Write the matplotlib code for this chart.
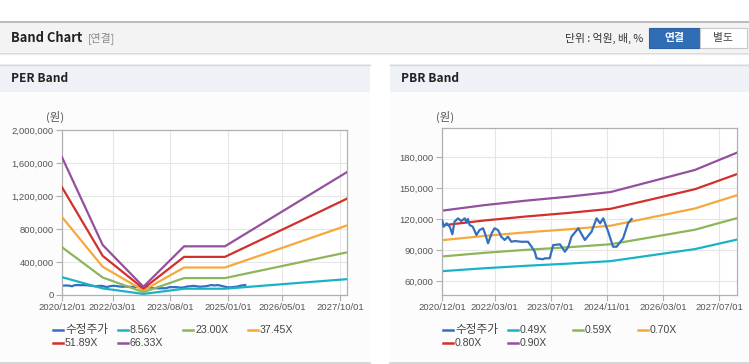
import matplotlib
matplotlib.use("Agg")
import matplotlib.pyplot as plt
import pandas as pd
from matplotlib.patches import Rectangle
from matplotlib.lines import Line2D
from matplotlib.ticker import FuncFormatter

plt.rcParams["font.family"] = ["Liberation Sans", "Noto Sans CJK KR", "DejaVu Sans"]

W, H = 749, 364

# ---- data -------------------------------------------------------------
band_dates = pd.to_datetime([
    "2020-12-01", "2021-12-01", "2022-12-01", "2023-12-01",
    "2024-12-01", "2025-12-01", "2026-12-01", "2027-12-01",
])

price_dates = pd.to_datetime([
    "2020-12-04", "2020-12-16", "2021-01-10", "2021-02-06", "2021-03-01",
    "2021-03-19", "2021-04-19", "2021-05-16", "2021-06-16", "2021-07-01",
    "2021-07-13", "2021-07-28", "2021-08-25", "2021-09-25", "2021-10-22",
    "2021-11-22", "2021-12-13", "2022-01-04", "2022-02-04", "2022-03-01",
    "2022-04-01", "2022-04-28", "2022-05-28", "2022-06-25", "2022-07-25",
    "2022-08-22", "2022-10-19", "2022-12-16", "2023-01-16", "2023-02-13",
    "2023-02-28", "2023-04-25", "2023-05-10", "2023-06-22", "2023-07-22",
    "2023-09-19", "2023-11-01", "2023-12-01", "2023-12-28", "2024-02-25",
    "2024-04-22", "2024-06-19", "2024-08-01", "2024-09-01", "2024-09-28",
    "2024-11-10", "2024-12-22", "2025-01-22", "2025-03-19", "2025-05-01",
    "2025-06-01",
])
price = [
    118500, 112700, 116000, 112700, 105400,
    117500, 120800, 118200, 120800, 117000,
    120200, 114400, 112700, 104700, 109500,
    111200, 104700, 96700, 106300, 111200,
    109500, 103100, 99900, 103100, 98200,
    98900, 98200, 98200, 93400, 88600,
    82200, 81300, 82200, 82200, 95000,
    95700, 88600, 93400, 103100, 111200,
    99900, 107900, 120800, 116000, 120800,
    107900, 93400, 93400, 101500, 116000,
    120200,
]

per_labels = ["수정주가", "8.56X", "23.00X", "37.45X", "51.89X", "66.33X"]
per_856 = [216000, 80000, 13000, 76000, 76000, 115000, 154000, 192000]
per_2300 = [579000, 212000, 35000, 205000, 205000, 309000, 413000, 517000]
per_3745 = [945000, 342000, 56000, 333000, 333000, 502000, 672000, 843000]
per_5189 = [1306000, 474000, 78000, 462000, 462000, 696000, 931000, 1168000]
per_6633 = [1670000, 606000, 100000, 590000, 590000, 890000, 1190000, 1490000]

pbr_labels = ["수정주가", "0.49X", "0.59X", "0.70X", "0.80X", "0.90X"]
pbr_049 = [69800, 72600, 75000, 77100, 79500, 85300, 91100, 100300]
pbr_059 = [84000, 87500, 90400, 92900, 95800, 102800, 109800, 121000]
pbr_070 = [99700, 103800, 107300, 110200, 113700, 122000, 130300, 143100]
pbr_080 = [114000, 118700, 122600, 126000, 130000, 139400, 148900, 163500]
pbr_090 = [128200, 133500, 137900, 141700, 146200, 156800, 167500, 184200]

per_ticks = ["2020-12-01", "2022-03-01", "2023-08-01", "2025-01-01", "2026-05-01", "2027-10-01"]
pbr_ticks = ["2020-12-01", "2022-03-01", "2023-07-01", "2024-11-01", "2026-03-01", "2027-07-01"]

colors = ["#3570c0", "#1ab3c6", "#8db55a", "#f4a93a", "#d2302a", "#93509e"]

KR = ["Noto Sans CJK KR", "DejaVu Sans"]


# ---- helpers -----------------------------------------------------------
def fx(x):
    return x / W


def fy(y):
    return 1 - y / H


def box(fig, x0, y0, x1, y1, z=-3, **kw):
    fig.add_artist(Rectangle((fx(x0), fy(y1)), fx(x1) - fx(x0), fy(y0) - fy(y1),
                             transform=fig.transFigure, zorder=z, **kw))


def hline(fig, x0, x1, y, color, lw=1.0):
    fig.add_artist(Line2D([fx(x0), fx(x1)], [fy(y), fy(y)], transform=fig.transFigure,
                          color=color, lw=lw, zorder=-2))


def style_axes(ax, ticks, ylim, yticks):
    ax.set_xlim(pd.Timestamp("2020-12-01"), pd.Timestamp("2027-12-01"))
    ax.set_ylim(*ylim)
    ax.set_yticks(yticks)
    tks = pd.to_datetime(ticks)
    ax.set_xticks(tks)
    ax.set_xticklabels([t.strftime("%Y/%m/%d") for t in tks])
    ax.yaxis.set_major_formatter(FuncFormatter(lambda v, p: f"{v:,.0f}"))
    ax.grid(True, color="#e6e6e6", lw=0.8)
    ax.set_axisbelow(True)
    for s in ax.spines.values():
        s.set_color("#b0b0b0")
        s.set_linewidth(0.9)
    ax.tick_params(length=4, color="#b0b0b0", labelsize=6.8, labelcolor="#555555", pad=2)


def draw_legend(fig, x0, labels):
    for i, (lab, col) in enumerate(zip(labels, colors)):
        row, c = divmod(i, 4)
        x = x0 + 65 * c
        y = 330 + 13.3 * row
        fig.add_artist(Line2D([fx(x), fx(x + 10)], [fy(y), fy(y)], transform=fig.transFigure,
                              color=col, lw=1.8))
        size = 8.4 if i == 0 else 7.6
        fig.text(fx(x + 12), fy(y), lab, fontsize=size, color="#444444", va="center", ha="left")


# ---- figure ------------------------------------------------------------
fig = plt.figure(figsize=(W / 100, H / 100), dpi=100)
fig.patch.set_facecolor("white")

# top header bar
box(fig, 0, 22, W, 52, facecolor="#f3f3f3", edgecolor="none")
hline(fig, 0, W, 22, "#b0b0b0", 1.2)
hline(fig, 0, W, 52.5, "#d6d6d6", 1.0)
hline(fig, 0, W, 54, "#ececec", 1.0)
fig.text(fx(11), fy(38), "Band Chart", fontsize=9.3, fontweight="bold", color="#222222",
         va="center", ha="left", family=KR)
fig.text(fx(88), fy(38), "[연결]", fontsize=7.8, color="#888888", va="center", ha="left",
         family=KR)
fig.text(fx(643), fy(38), "단위 : 억원, 배, %", fontsize=7.8, color="#333333", va="center",
         ha="right", family=KR)
box(fig, 649, 28, 700, 48, z=-1, facecolor="#2f6db5", edgecolor="#2a62a3", lw=0.8)
box(fig, 700, 28, 747, 48, z=-1, facecolor="#ffffff", edgecolor="#c8c8c8", lw=0.8)
fig.text(fx(674.5), fy(38), "연결", fontsize=7.8, fontweight="bold", color="white",
         va="center", ha="center", family=KR)
fig.text(fx(723.5), fy(38), "별도", fontsize=7.8, color="#444444",
         va="center", ha="center", family=KR)

# panel frames
for px0, px1, title in [(0, 370, "PER Band"), (390, W, "PBR Band")]:
    box(fig, px0, 64, px1, 92, facecolor="#eef1f6", edgecolor="none")
    box(fig, px0, 92, px1, 362, facecolor="#fcfcfc", edgecolor="none")
    hline(fig, px0, px1, 64.5, "#d8d8d8", 1.0)
    hline(fig, px0, px1, 362.5, "#cfcfcf", 1.2)
    fig.text(fx(px0 + 11), fy(79), title, fontsize=8.6, fontweight="bold", color="#222222",
             va="center", ha="left", family=KR)
    fig.text(fx(px0 + 46), fy(117), "(원)", fontsize=8.2, color="#555555", va="center",
             ha="left", family=KR)

# PER chart
ax1 = fig.add_axes([fx(62), fy(295), (347 - 62) / W, (295 - 130) / H])
ax1.set_facecolor("white")
ax1.plot(price_dates, price, color=colors[0], lw=1.6, zorder=2)
for vals, col in zip([per_856, per_2300, per_3745, per_5189, per_6633], colors[1:]):
    ax1.plot(band_dates, vals, color=col, lw=1.6, zorder=3)
style_axes(ax1, per_ticks, (0, 2000000), range(0, 2000001, 400000))
draw_legend(fig, 53, per_labels)

# PBR chart
ax2 = fig.add_axes([fx(442), fy(295), (737 - 442) / W, (295 - 128) / H])
ax2.set_facecolor("white")
for vals, col in zip([pbr_049, pbr_059, pbr_070, pbr_080, pbr_090], colors[1:]):
    ax2.plot(band_dates, vals, color=col, lw=1.6, zorder=2)
ax2.plot(price_dates, price, color=colors[0], lw=1.6, zorder=3)
style_axes(ax2, pbr_ticks, (46800, 208000), range(60000, 180001, 30000))
draw_legend(fig, 443, pbr_labels)

fig.savefig("out.png", dpi=100, facecolor=fig.get_facecolor())
